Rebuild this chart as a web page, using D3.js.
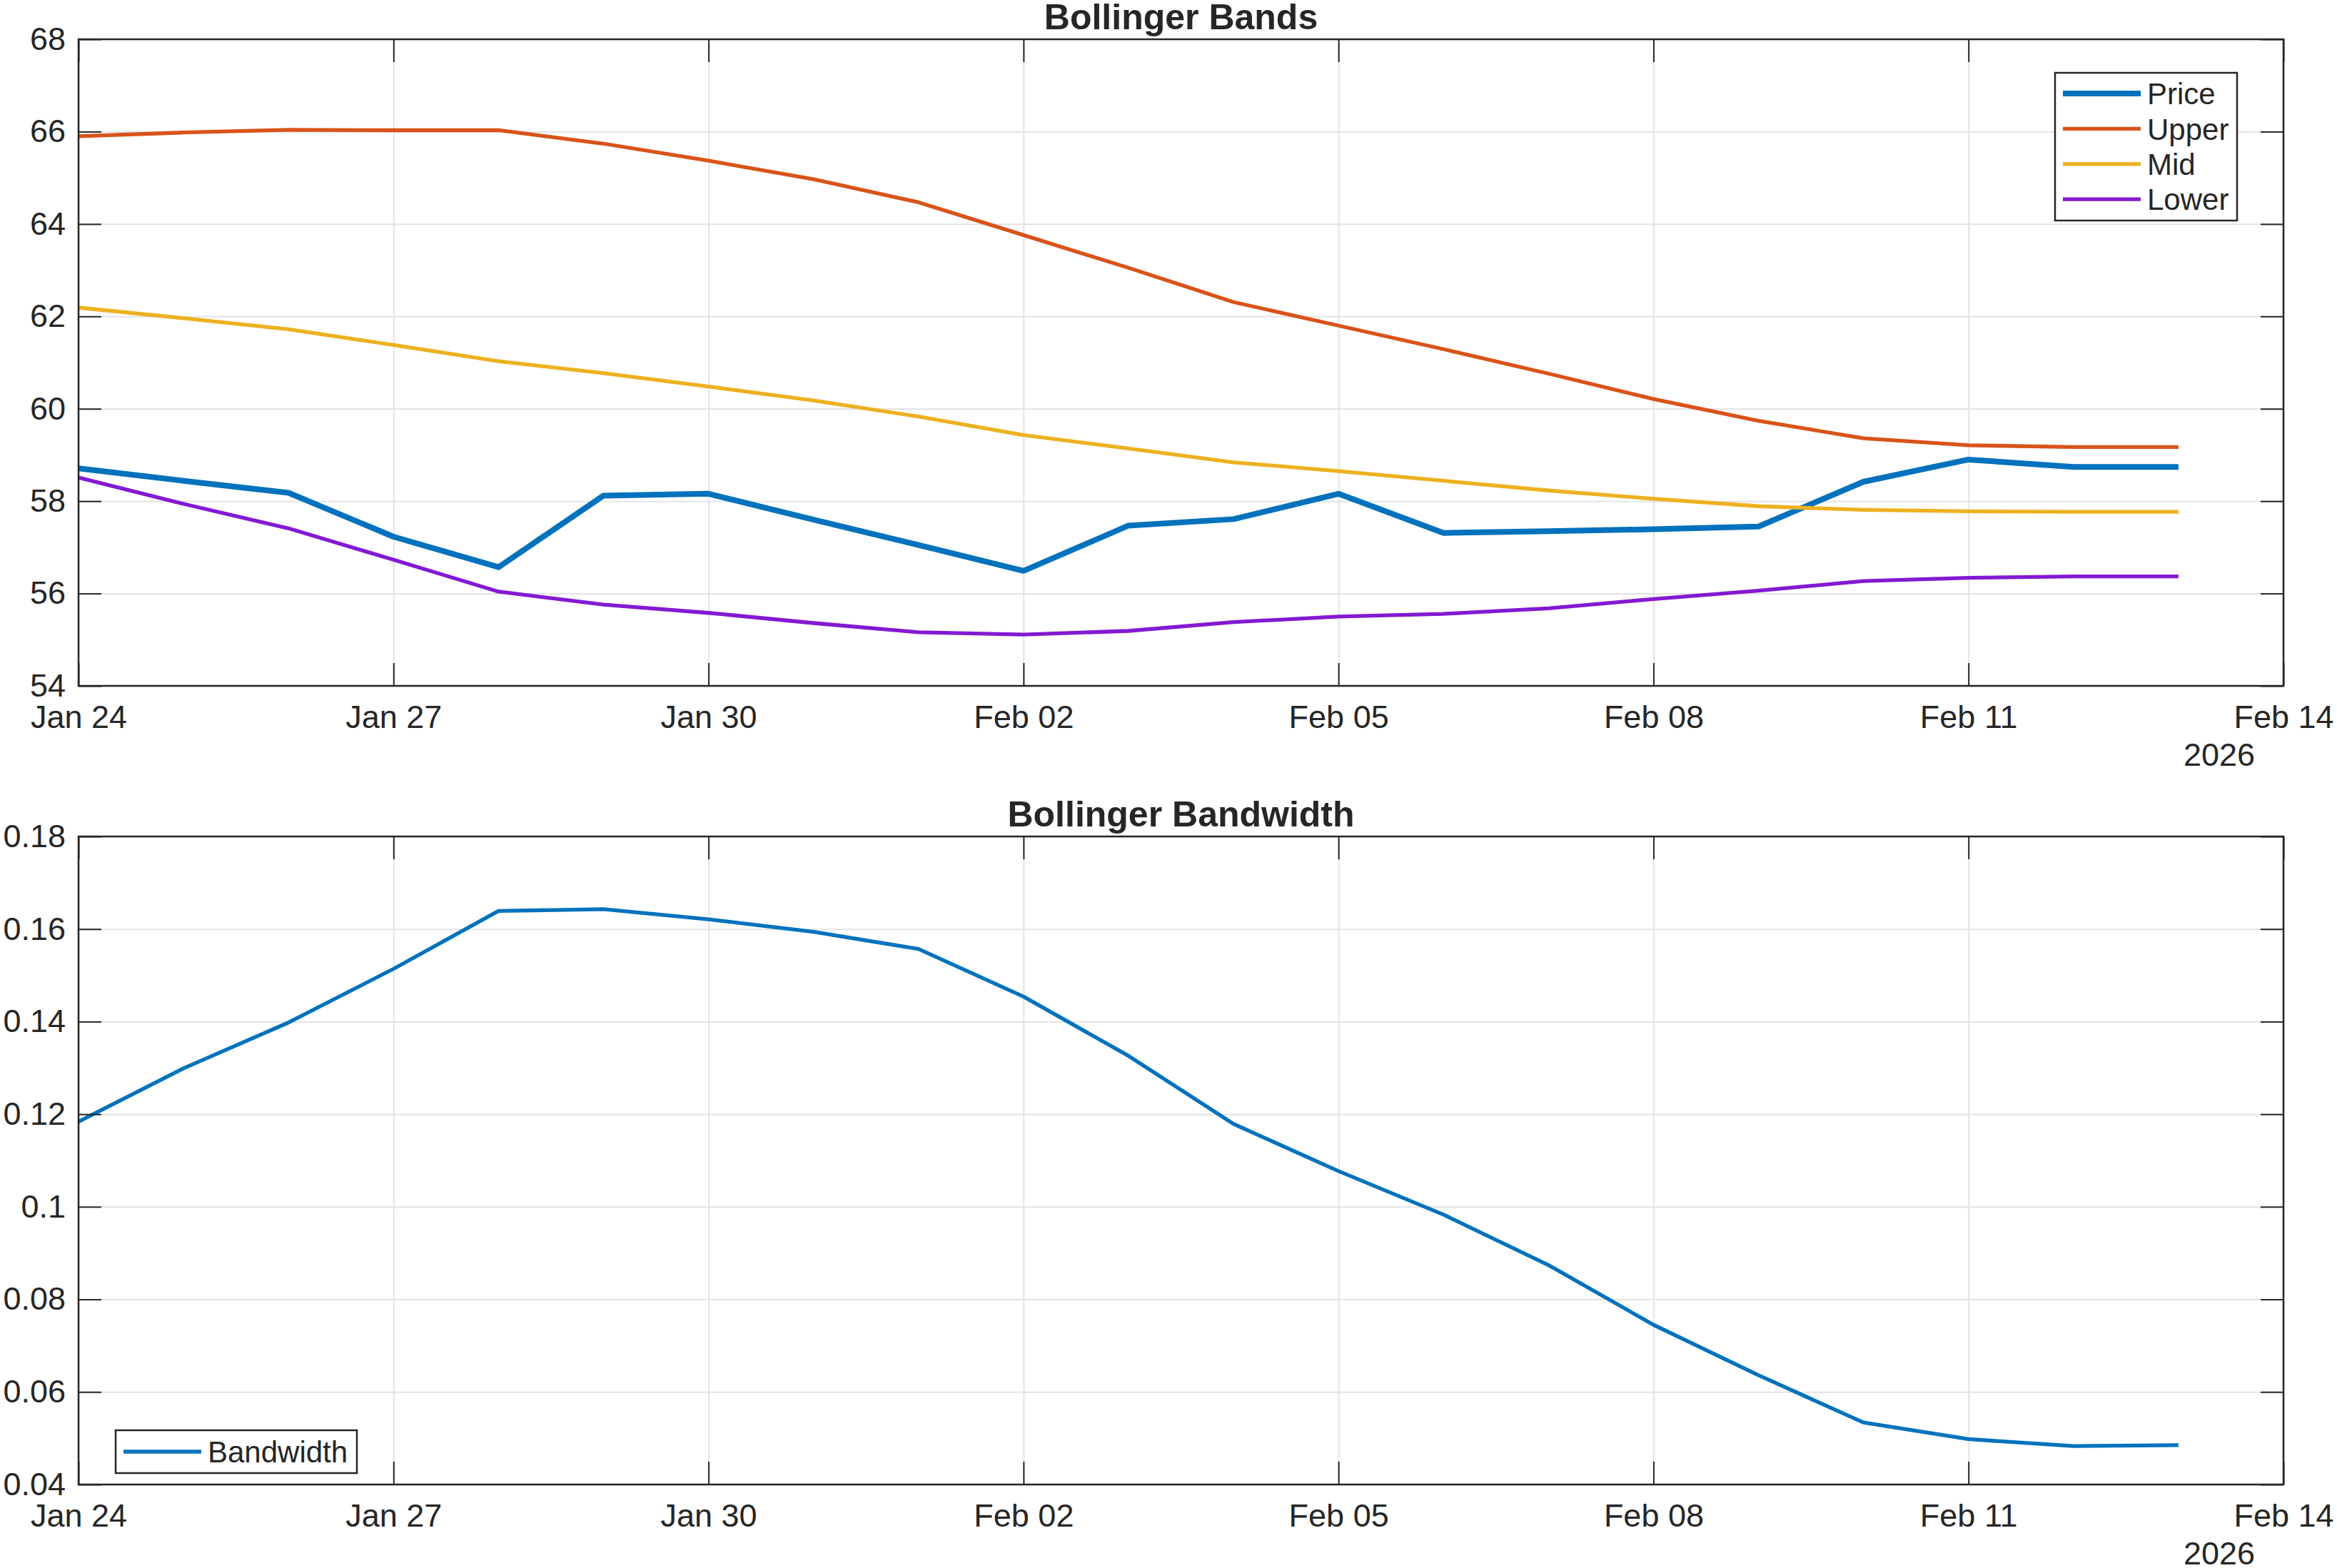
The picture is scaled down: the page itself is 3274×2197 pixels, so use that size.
<!DOCTYPE html>
<html>
<head>
<meta charset="utf-8">
<script src="https://cdn.jsdelivr.net/npm/d3@7"></script>
<style>
  body { margin: 0; background: #fff; }
  text { font-family: "Liberation Sans", Arial, sans-serif; fill: #262626; }
</style>
</head>
<body>
<svg id="fig" width="3274" height="2197"></svg>
<script>
// daily observations
const dates = ["2026-01-24","2026-01-25","2026-01-26","2026-01-27","2026-01-28","2026-01-29","2026-01-30",
               "2026-01-31","2026-02-01","2026-02-02","2026-02-03","2026-02-04","2026-02-05","2026-02-06",
               "2026-02-07","2026-02-08","2026-02-09","2026-02-10","2026-02-11","2026-02-12","2026-02-13"]

const price = [58.71,58.44,58.18,57.23,56.57,58.12,58.16,57.60,57.05,56.49,57.47,
               57.61,58.16,57.31,57.35,57.39,57.45,58.42,58.90,58.74,58.74]
const upper = [65.90,65.98,66.04,66.03,66.03,65.74,65.37,64.97,64.47,63.76,63.05,
               62.31,61.80,61.29,60.76,60.21,59.74,59.36,59.21,59.17,59.17]
const mid   = [62.19,61.96,61.72,61.38,61.03,60.77,60.48,60.18,59.83,59.43,59.14,
               58.84,58.65,58.44,58.23,58.05,57.89,57.81,57.78,57.77,57.77]
const lower = [58.51,57.94,57.41,56.73,56.04,55.76,55.58,55.36,55.16,55.11,55.19,
               55.38,55.50,55.56,55.68,55.88,56.06,56.27,56.34,56.37,56.37]
const bandwidth = [0.1184,0.1299,0.1398,0.1514,0.1639,0.1643,0.1621,0.1594,0.1557,0.1454,0.1326,
                   0.1179,0.1077,0.0983,0.0874,0.0745,0.0636,0.0534,0.0498,0.0483,0.0485]

// tick labels
const xTicks = ["2026-01-24","2026-01-27","2026-01-30","2026-02-02","2026-02-05","2026-02-08","2026-02-11","2026-02-14"]
const priceTicks = [54,56,58,60,62,64,66,68]
const bwTicks = [0.04,0.06,0.08,0.1,0.12,0.14,0.16,0.18]

const parse = d3.utcParse("%Y-%m-%d")
const days = dates.map(parse)

const svg = d3.select("#fig")
const left = 110, right = 3199
const tickLen = 32

const xScale = d3.scaleUtc()
    .domain([parse(xTicks[0]), parse(xTicks[xTicks.length-1])])
    .range([left, right])

const panel = (top, bottom, title, yDomain, yTicks, yFmt, series, legend) => {
    const g = svg.append("g")
    const yScale = d3.scaleLinear().domain(yDomain).range([bottom, top])
    const h = bottom - top, w = right - left

    // grid (drawn under the data)
    const grid = g.append("g").attr("class", "grid")
    grid.append("g").attr("transform", `translate(0,${bottom})`)
        .call(d3.axisBottom(xScale).tickValues(xTicks.map(parse)).tickSize(-h).tickFormat(""))
    grid.append("g").attr("transform", `translate(${left},0)`)
        .call(d3.axisLeft(yScale).tickValues(yTicks).tickSize(-w).tickFormat(""))
    grid.selectAll(".domain").remove()
    grid.selectAll("line").attr("stroke", "#e3e3e3").attr("stroke-width", 2)

    // data lines
    series.forEach(s => {
        g.append("path")
            .datum(s.values.map((v, i) => ({d: days[i], v})))
            .attr("fill", "none")
            .attr("stroke", s.color)
            .attr("stroke-width", s.width)
            .attr("stroke-linejoin", "round")
            .attr("d", d3.line().x(d => xScale(d.d)).y(d => yScale(d.v)))
    })

    // axes with inward ticks on all four sides
    const ax = g.append("g").attr("class", "axes")
    ax.append("g").attr("transform", `translate(0,${bottom})`)
        .call(d3.axisBottom(xScale).tickValues(xTicks.map(parse))
            .tickFormat(d3.utcFormat("%b %d")).tickSizeInner(-tickLen).tickSizeOuter(0).tickPadding(27))
    ax.append("g").attr("transform", `translate(0,${top})`)
        .call(d3.axisTop(xScale).tickValues(xTicks.map(parse)).tickFormat("")
            .tickSizeInner(-tickLen).tickSizeOuter(0))
    ax.append("g").attr("transform", `translate(${left},0)`)
        .call(d3.axisLeft(yScale).tickValues(yTicks).tickFormat(yFmt)
            .tickSizeInner(-tickLen).tickSizeOuter(0).tickPadding(18))
    ax.append("g").attr("transform", `translate(${right},0)`)
        .call(d3.axisRight(yScale).tickValues(yTicks).tickFormat("")
            .tickSizeInner(-tickLen).tickSizeOuter(0))
    ax.selectAll(".domain").remove()
    ax.selectAll(".tick line").attr("stroke", "#262626").attr("stroke-width", 2)
    ax.selectAll(".tick text").attr("font-size", 45).attr("fill", "#262626")
        .attr("font-family", "\"Liberation Sans\", Arial, sans-serif")

    // box
    g.append("rect").attr("x", left).attr("y", top).attr("width", w).attr("height", h)
        .attr("fill", "none").attr("stroke", "#262626").attr("stroke-width", 2.5)

    // year label under the last tick
    g.append("text").attr("x", 3159).attr("y", bottom + 112)
        .attr("text-anchor", "end").attr("font-size", 45).text("2026")

    // title
    g.append("text").attr("x", (left + right) / 2).attr("y", top - 14)
        .attr("text-anchor", "middle").attr("font-size", 50).attr("font-weight", "bold")
        .text(title)

    // legend
    const lg = g.append("g")
    lg.append("rect").attr("x", legend.x).attr("y", legend.y)
        .attr("width", legend.w).attr("height", legend.h)
        .attr("fill", "#fff").attr("stroke", "#262626").attr("stroke-width", 2.5)
    series.forEach((s, i) => {
        const cy = legend.y + legend.first + i * legend.step
        lg.append("line").attr("x1", legend.x + legend.pad).attr("x2", legend.x + legend.pad + legend.len)
            .attr("y1", cy).attr("y2", cy)
            .attr("stroke", s.color).attr("stroke-width", s.width)
        lg.append("text").attr("x", legend.x + legend.pad + legend.len + 9).attr("y", cy)
            .attr("dy", "0.36em").attr("font-size", 42).text(s.name)
    })
}

panel(55, 961, "Bollinger Bands", [54, 68], priceTicks, d3.format("d"),
    [
        {name: "Price", values: price, color: "#0072BD", width: 8},
        {name: "Upper", values: upper, color: "#D95319", width: 5.3},
        {name: "Mid",   values: mid,   color: "#EDB120", width: 5.3},
        {name: "Lower", values: lower, color: "#8319D4", width: 5.3}
    ],
    {x: 2879, y: 102, w: 255, h: 207, pad: 11, len: 109, first: 29, step: 49.4})

panel(1172, 2080, "Bollinger Bandwidth", [0.04, 0.18], bwTicks, d => String(+d.toFixed(2)),
    [
        {name: "Bandwidth", values: bandwidth, color: "#0072BD", width: 5.3}
    ],
    {x: 162, y: 2004, w: 338, h: 60, pad: 11, len: 109, first: 30, step: 0})
</script>
</body>
</html>
